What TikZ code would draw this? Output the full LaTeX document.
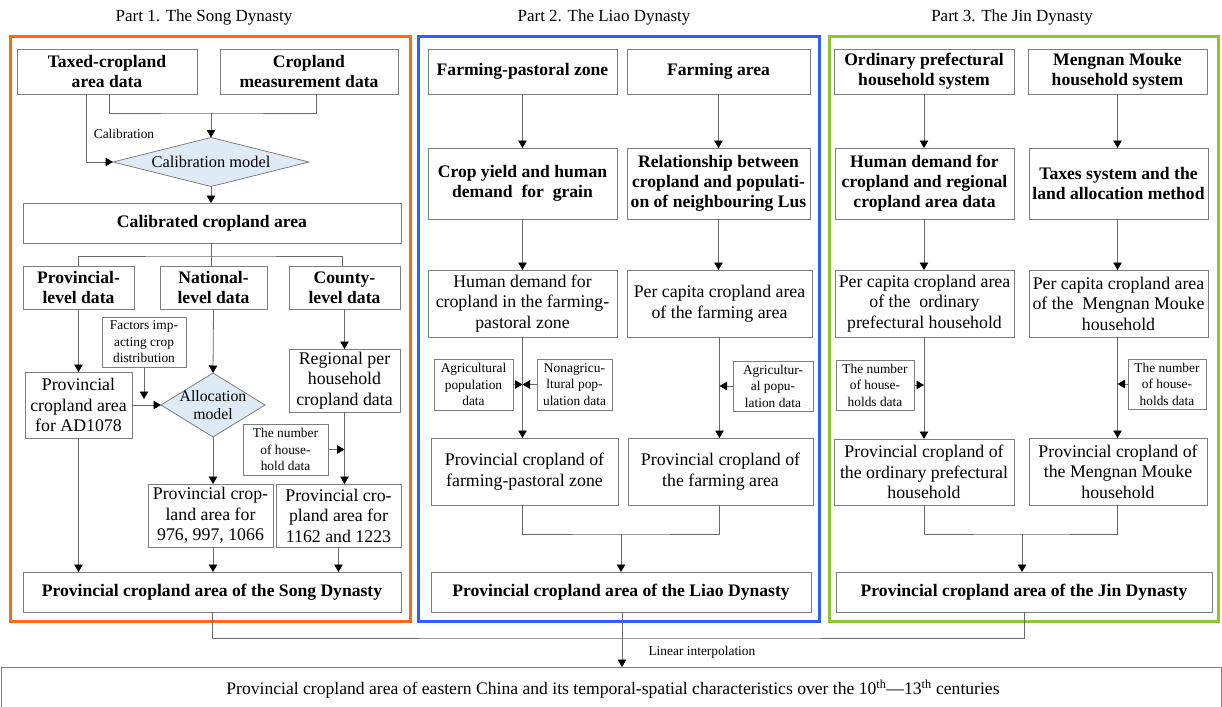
\documentclass[tikz,border=0pt]{standalone}
\usepackage{fontspec}
\setmainfont{Liberation Serif}
\usetikzlibrary{arrows.meta,shapes.geometric,calc}
\definecolor{lc}{RGB}{105,105,105}
\definecolor{bc}{RGB}{125,125,125}
\definecolor{orng}{RGB}{255,105,20}
\definecolor{blu}{RGB}{45,95,255}
\definecolor{grn}{RGB}{140,200,50}
\definecolor{dfill}{RGB}{222,235,247}
\tikzset{
  base/.style={draw=bc, line width=0.8pt, inner sep=0pt, outer sep=0pt, align=center},
  bb/.style={base, font=\fontsize{17.6}{20}\selectfont\bfseries},
  rb/.style={base, font=\fontsize{17.8}{20.5}\selectfont},
  sb/.style={base, font=\fontsize{13.4}{16.5}\selectfont},
  dia/.style={draw=bc, line width=0.8pt, fill=dfill, diamond, inner sep=0pt, outer sep=0pt},
  ln/.style={draw=lc, line width=0.8pt},
  arr/.style={draw=lc, line width=0.8pt, -{Triangle[length=7.5pt,width=8.5pt,color=black]}},
  ttl/.style={font=\fontsize{17}{20}\selectfont},
  sml/.style={font=\fontsize{13.4}{16}\selectfont},
  panel/.style={line width=3pt}
}
\newcommand{\bx}[7]{\node[#6, minimum width={(#4-#2)*1pt}, minimum height={(#5-#3)*1pt}] (#1) at ({(#2+#4)/2},{(#3+#5)/2}) {#7};}
\begin{document}
\begin{tikzpicture}[x=1pt,y=-1pt]
\useasboundingbox (0,0) rectangle (1222,706);
% titles
\node[ttl] (t1) at (204,17) {Part 1. The Song Dynasty};
\node[ttl] (t2) at (604,17) {Part 2. The Liao Dynasty};
\node[ttl] (t3) at (1012,17) {Part 3. The Jin Dynasty};
% panels
\draw[panel, draw=orng] (10,37) rectangle (410,621);
\draw[panel, draw=blu] (418,37) rectangle (819,621);
\draw[panel, draw=grn] (829,37) rectangle (1218,621);

% ---------- Part 1 ----------
\bx{T1}{17}{49}{197}{94}{bb}{Taxed-cropland\\area data}
\bx{T2}{220}{49}{398}{94}{bb}{Cropland\\measurement data}
\node[dia, minimum width=196pt, minimum height=49pt] (D1) at (211,162) {};
\node[font=\fontsize{16.4}{18}\selectfont] (D1t) at (D1.center) {Calibration model};
\bx{CA}{23}{203}{401}{243}{bb}{Calibrated cropland area}
\bx{Prov}{23}{266}{134}{309}{bb}{Provincial-\\level data}
\bx{Nat}{160}{266}{267}{309}{bb}{National-\\level data}
\bx{County}{289}{266}{400}{309}{bb}{County-\\level data}
\bx{Fac}{102}{317}{186}{367}{sb}{Factors imp-\\acting crop\\distribution}
\bx{P1078}{25}{372}{132}{438}{rb}{Provincial\\cropland area\\for AD1078}
\node[dia, minimum width=104pt, minimum height=64pt] (D2) at (213,405) {};
\node[font=\fontsize{15.8}{17.5}\selectfont, align=center] (D2t) at (D2.center) {Allocation\\model};
\bx{Reg}{289}{349}{400}{412}{rb}{Regional per\\household\\cropland data}
\bx{NH}{243}{424}{328}{475}{sb}{The number\\of house-\\hold data}
\bx{P976}{148}{484}{273}{547}{rb}{Provincial crop-\\land area for\\976, 997, 1066}
\bx{P1162}{276}{484}{401}{547}{rb}{Provincial cro-\\pland area for\\1162 and 1223}
\bx{Song}{23}{572}{401}{612}{bb}{Provincial cropland area of the Song Dynasty}

\coordinate (j1) at (211,113);
\draw[ln] ([xshift=2pt]T1.south) |- (j1) -| ([xshift=7pt]T2.south);
\draw[arr] (j1) -- (D1.north);
\draw[arr] ([xshift=-21pt]T1.south) |- (D1.west);
\node[sml] (cal) at (124,134) {Calibration};
\draw[arr] (D1.south) -- (D1.south |- CA.north);
\coordinate (j2) at (211,256);
\draw[ln] (D1.south |- CA.south) -- (j2);
\draw[ln] (Prov.north) |- (j2) -| ([xshift=-2pt]County.north);
\draw[ln] (j2) -- (j2 |- Nat.north);
\draw[arr] (Prov.south) -- (Prov.south |- P1078.north);
\draw[arr] (Nat.south) -- (D2.north);
\draw[arr] (County.south) -- (County.south |- Reg.north);
\draw[arr] (P1078.east) -- (D2.west);
\draw[arr] (Fac.south) -- ($(Fac.south |- P1078.east)+(0,-6)$);
\draw[arr] (Reg.south) -- (Reg.south |- P1162.north);
\draw[arr] (NH.east) -- (NH.east -| Reg.south);
\draw[arr] (D2.south) -- (D2.south |- P976.north);
\draw[arr] (P1078.south) -- (P1078.south |- Song.north);
\draw[arr] (D2.south |- P976.south) -- (D2.south |- Song.north);
\draw[arr] (P1162.south) -- (P1162.south |- Song.north);

% ---------- Part 2 ----------
\bx{FP}{428}{49}{617}{94}{bb}{Farming-pastoral zone}
\bx{FA}{627}{49}{810}{94}{bb}{Farming area}
\bx{CY}{428}{148}{617}{219}{bb}{Crop yield and human\\demand~ for~ grain}
\bx{RE}{627}{148}{810}{219}{bb}{Relationship between\\cropland and populati-\\on of neighbouring Lus}
\bx{HD}{428}{270}{617}{337}{rb}{Human demand for\\cropland in the farming-\\pastoral zone}
\bx{PC}{627}{270}{812}{337}{rb}{Per capita cropland area\\of the farming area}
\bx{AP}{434}{359}{513}{410}{sb}{Agricultural\\population\\data}
\bx{NAP}{537}{359}{612}{410}{sb}{Nonagricu-\\ltural pop-\\ulation data}
\bx{AP2}{733}{361}{813}{411}{sb}{Agricultur-\\al popu-\\lation data}
\bx{PFP}{431}{438}{618}{505}{rb}{Provincial cropland of\\farming-pastoral zone}
\bx{PFA}{628}{438}{813}{505}{rb}{Provincial cropland of\\the farming area}
\bx{Liao}{431}{572}{811}{612}{bb}{Provincial cropland area of the Liao Dynasty}

\draw[arr] (FP.south) -- (FP.south |- CY.north);
\draw[arr] (FA.south) -- (FA.south |- RE.north);
\draw[arr] (CY.south) -- (CY.south |- HD.north);
\draw[arr] (RE.south) -- (RE.south |- PC.north);
\draw[arr] (HD.south) -- (HD.south |- PFP.north);
\draw[arr] (AP.east) -- (AP.east -| HD.south);
\draw[arr] (NAP.west) -- (NAP.west -| HD.south);
\draw[arr] (PC.south) -- (PC.south |- PFA.north);
\draw[arr] (AP2.west) -- (AP2.west -| PC.south);
\coordinate (j3) at (621,534);
\draw[ln] (HD.south |- PFP.south) |- (j3) -| (PC.south |- PFA.south);
\draw[arr] (j3) -- (j3 |- Liao.north);

% ---------- Part 3 ----------
\bx{OP}{834}{49}{1014}{94}{bb}{Ordinary prefectural\\household system}
\bx{MM}{1028}{49}{1207}{94}{bb}{Mengnan Mouke\\household system}
\bx{HC}{835}{148}{1014}{219}{bb}{Human demand for\\cropland and regional\\cropland area data}
\bx{TX}{1029}{148}{1208}{219}{bb}{Taxes system and the\\land allocation method}
\bx{PCO}{835}{270}{1014}{337}{rb}{Per capita cropland area\\of the~ ordinary\\prefectural household}
\bx{PCM}{1029}{270}{1208}{337}{rb}{Per capita cropland area\\of the~ Mengnan Mouke\\household}
\bx{NH1}{836}{360}{914}{410}{sb}{The number\\of house-\\holds data}
\bx{NH2}{1128}{359}{1206}{409}{sb}{The number\\of house-\\holds data}
\bx{PO}{834}{439}{1014}{505}{rb}{Provincial cropland of\\the ordinary prefectural\\household}
\bx{PM}{1029}{438}{1207}{505}{rb}{Provincial cropland of\\the Mengnan Mouke\\household}
\bx{Jin}{836}{572}{1212}{612}{bb}{Provincial cropland area of the Jin Dynasty}

\draw[arr] (OP.south) -- (OP.south |- HC.north);
\draw[arr] (MM.south) -- (MM.south |- TX.north);
\draw[arr] (OP.south |- HC.south) -- (OP.south |- PCO.north);
\draw[arr] (MM.south |- TX.south) -- (MM.south |- PCM.north);
\draw[arr] (OP.south |- PCO.south) -- (OP.south |- PO.north);
\draw[arr] (MM.south |- PCM.south) -- (MM.south |- PM.north);
\draw[arr] (NH1.east) -- (NH1.east -| OP.south);
\draw[arr] (NH2.west) -- (NH2.west -| MM.south);
\coordinate (j4) at (1022,534);
\draw[ln] (OP.south |- PO.south) |- (j4) -| (MM.south |- PM.south);
\draw[arr] (j4) -- (j4 |- Jin.north);

% ---------- bottom ----------
\bx{Fin}{1}{667}{1221}{725}{rb}{}
\node[font=\fontsize{17.6}{20}\selectfont] (fint) at (613,689) {Provincial cropland area of eastern China and its temporal-spatial characteristics over the 10\textsuperscript{th}—13\textsuperscript{th} centuries};
\coordinate (j5) at (622,638);
\draw[ln] (Song.south) |- (j5) -| (Jin.south);
\draw[arr] (Liao.south -| j5) -- (j5 |- Fin.north);
\node[sml, anchor=west] (li) at (645,652) {Linear interpolation};
\end{tikzpicture}
\end{document}
